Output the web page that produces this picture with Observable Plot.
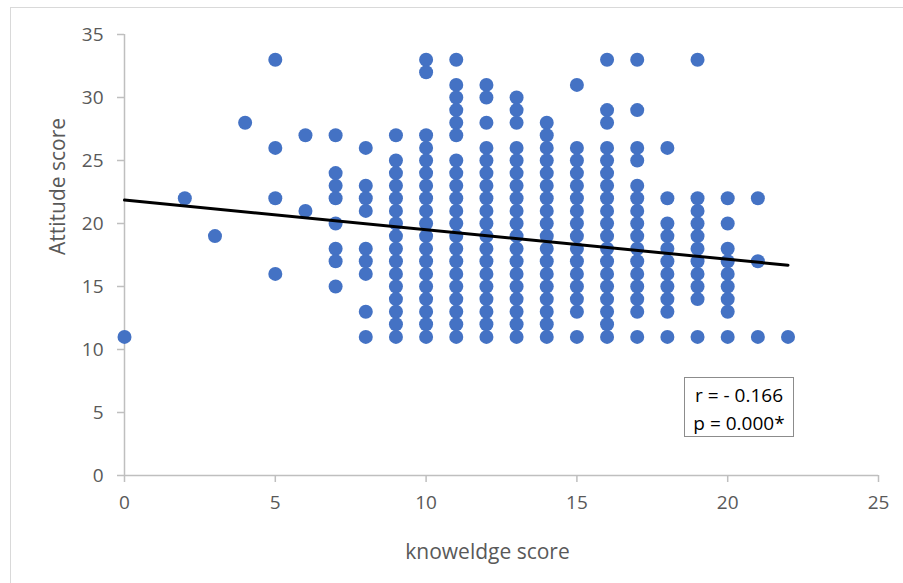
<!DOCTYPE html>
<html>
<head>
<meta charset="utf-8">
<script src="https://cdn.jsdelivr.net/npm/d3@7"></script>
<script src="https://cdn.jsdelivr.net/npm/@observablehq/plot@0.6"></script>
<style>
  html, body { margin: 0; padding: 0; background: #fff; }
  #wrap { position: relative; width: 903px; height: 583px; overflow: hidden; font-family: "Open Sans", sans-serif; }
  #frame { position: absolute; left: 10px; top: 7px; right: -5px; bottom: -5px; border-left: 1.5px solid #d9d9d9; border-top: 1.5px solid #d9d9d9; pointer-events: none; }
  #stats { position: absolute; left: 684px; top: 377px; width: 110px; height: 60px; border: 1px solid #8c8c8c; background: #fff;
           font-family: "Open Sans", sans-serif; font-size: 19px; color: #000; line-height: 28px; padding-top: 3px; box-sizing: border-box; text-align: center; }
</style>
</head>
<body>
<div id="wrap"><div id="frame"></div><div id="chart"></div><div id="stats"></div></div>
<script>
// knowledge score (x) and the attitude scores (y) observed at each knowledge score
const knowledgeScores = [0, 2, 3, 4, 5, 6, 7, 8, 9, 10, 11, 12, 13, 14, 15, 16, 17, 18, 19, 20, 21, 22];
const attitudeScores = [
  [11],
  [22],
  [19],
  [28],
  [33, 26, 22, 16],
  [27, 21],
  [27, 24, 23, 22, 20, 18, 17, 15],
  [26, 23, 22, 21, 18, 17, 16, 13, 11],
  [27, 25, 24, 23, 22, 21, 20, 19, 18, 17, 16, 15, 14, 13, 12, 11],
  [33, 32, 27, 26, 25, 24, 23, 22, 21, 20, 19, 18, 17, 16, 15, 14, 13, 12, 11],
  [33, 31, 30, 29, 28, 27, 25, 24, 23, 22, 21, 20, 19, 18, 17, 16, 15, 14, 13, 12, 11],
  [31, 30, 28, 26, 25, 24, 23, 22, 21, 20, 19, 18, 17, 16, 15, 14, 13, 12, 11],
  [30, 29, 28, 26, 25, 24, 23, 22, 21, 20, 19, 18, 17, 16, 15, 14, 13, 12, 11],
  [28, 27, 26, 25, 24, 23, 22, 21, 20, 19, 18, 17, 16, 15, 14, 13, 12, 11],
  [31, 26, 25, 24, 23, 22, 21, 20, 19, 18, 17, 16, 15, 14, 13, 11],
  [33, 29, 28, 26, 25, 24, 23, 22, 21, 20, 19, 18, 17, 16, 15, 14, 13, 12, 11],
  [33, 29, 26, 25, 23, 22, 21, 20, 19, 18, 17, 16, 15, 14, 13, 11],
  [26, 22, 20, 19, 18, 17, 16, 15, 14, 13, 11],
  [33, 22, 21, 20, 19, 18, 17, 16, 15, 14, 11],
  [22, 20, 18, 17, 16, 15, 14, 13, 11],
  [22, 17, 11],
  [11]
];
// linear trend line
const trendIntercept = 21.86;
const trendSlope = -0.235;
const trendRange = [0, 22];
const xTicks = [0, 5, 10, 15, 20, 25];
const yTicks = [0, 5, 10, 15, 20, 25, 30, 35];
const xTitle = "knoweldge score";
const yTitle = "Attitude score";
const statLines = ["r = - 0.166", "p = 0.000*"];

const points = knowledgeScores.flatMap((k, i) => attitudeScores[i].map(a => ({k, a})));
const trend = trendRange.map(k => ({k, a: trendIntercept + trendSlope * k}));

const axisColor = "#bfbfbf";
const textColor = "#595959";

const chart = Plot.plot({
  width: 903,
  height: 583,
  marginLeft: 124,
  marginRight: 25,
  marginTop: 34,
  marginBottom: 108,
  style: {fontFamily: "Open Sans, sans-serif", fontSize: "19px", color: textColor, background: "transparent", overflow: "visible"},
  x: {domain: [0, 25]},
  y: {domain: [0, 35]},
  marks: [
    Plot.ruleX([0], {y1: 0, y2: 35, stroke: axisColor, strokeWidth: 1.5}),
    Plot.ruleY([0], {x1: 0, x2: 25, stroke: axisColor, strokeWidth: 1.5}),
    Plot.axisX({ticks: xTicks, tickSize: 7, tickPadding: 13, stroke: axisColor, strokeWidth: 1.5, strokeOpacity: 1, fill: textColor, label: null, tickFormat: d => String(d)}),
    Plot.axisY({ticks: yTicks, tickSize: 7, tickPadding: 14, stroke: axisColor, strokeWidth: 1.5, strokeOpacity: 1, fill: textColor, label: null, tickFormat: d => String(d)}),
    Plot.dot(points, {x: "k", y: "a", r: 7, fill: "#4472C4", stroke: "none"}),
    Plot.line(trend, {x: "k", y: "a", stroke: "#000", strokeWidth: 3}),
    Plot.text([xTitle], {frameAnchor: "bottom", dy: 83, dx: -14, fontSize: 21, fill: textColor, text: d => d}),
    Plot.text([yTitle], {frameAnchor: "left", dx: -66, rotate: -90, fontSize: 21, fill: textColor, text: d => d})
  ]
});
document.getElementById("chart").appendChild(chart);
document.getElementById("stats").innerHTML = statLines.map(s => `<div>${s}</div>`).join("");
</script>
</body>
</html>
